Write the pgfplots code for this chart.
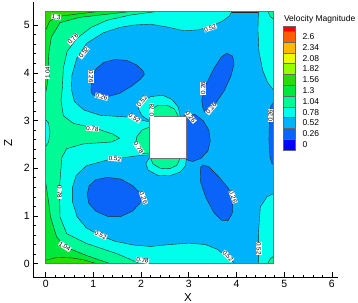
\documentclass[border=0pt]{standalone}
\usepackage{fontspec}
\setmainfont{Liberation Sans}
\usepackage{pgfplots}
\pgfplotsset{compat=1.18}
\definecolor{b0}{RGB}{0,0,255}
\definecolor{b1}{RGB}{10,100,250}
\definecolor{b2}{RGB}{0,178,252}
\definecolor{b3}{RGB}{0,255,235}
\definecolor{b4}{RGB}{0,250,150}
\definecolor{b5}{RGB}{0,232,60}
\definecolor{b6}{RGB}{40,222,0}
\definecolor{b7}{RGB}{150,255,0}
\definecolor{b8}{RGB}{235,255,0}
\definecolor{b9}{RGB}{255,185,0}
\definecolor{b10}{RGB}{255,95,0}
\definecolor{b11}{RGB}{255,0,0}
\pgfplotsset{reg/.style={fill=#1, draw=black!85, line width=0.4pt, line join=round}}
\tikzset{lbl/.style={fill=white, inner sep=0.4pt, font=\fontsize{6.3}{7}\selectfont}}
\begin{document}
\begin{tikzpicture}
\begin{axis}[
  at={(0,0)}, anchor=south west,
  scale only axis, width=304.3pt, height=274.8pt,
  xmin=-0.26, xmax=6.12, ymin=-0.28, ymax=5.48,
  axis lines=left, axis line style={-, line width=0.8pt},
  tick align=inside,
  xtick={0,...,6}, ytick={0,...,5},
  minor tick num=4,
  major tick length=5pt, minor tick length=2.5pt,
  tick style={black, line width=0.6pt},
  ticklabel style={font=\fontsize{10.5}{12}\selectfont},
  /pgf/number format/assume math mode=true,
  xlabel={X}, ylabel={Z},
  label style={font=\fontsize{11.5}{13}\selectfont},
  xlabel style={at={(axis description cs:0.508,-0.073)}, anchor=center},
  ylabel style={at={(axis description cs:-0.083,0.488)}, anchor=center},
]
% 0.26-0.52 background
\addplot[reg=b2] coordinates {(0,0) (4.78,0) (4.78,5.28) (0,5.28)} -- cycle;
% 0.52-0.78
\addplot[reg=b3] coordinates {(3.90,5.28) (0,5.28) (0,0) (3.97,0) (3.82,0.12) (3.6,0.3) (3.35,0.4) (3.0,0.43) (2.6,0.4) (2.2,0.36) (1.84,0.39) (1.45,0.47) (1.14,0.59) (0.85,0.75) (0.66,0.98) (0.56,1.3) (0.56,1.6) (0.64,1.85) (0.85,2.05) (1.28,2.17) (1.91,2.26) (2.17,2.28) (2.17,2.97) (1.77,3.07) (1.14,3.11) (0.8,3.22) (0.6,3.4) (0.54,3.65) (0.55,3.95) (0.65,4.3) (0.86,4.62) (1.21,4.84) (1.55,4.95) (1.83,5.0) (2.2,5.02) (2.6,4.95) (2.9,4.88) (3.2,4.9) (3.45,4.97) (3.7,5.08) (3.85,5.19)} -- cycle;
\addplot[reg=b3] coordinates {(2.17,3.0) (2.02,3.1) (1.94,3.25) (2.0,3.38) (2.2,3.5) (2.45,3.53) (2.65,3.44) (2.78,3.28) (2.82,3.09) (2.17,3.09)} -- cycle;
\addplot[reg=b3] coordinates {(2.17,2.21) (2.1,2.1) (2.15,1.96) (2.35,1.85) (2.6,1.84) (2.82,1.92) (2.93,2.05) (2.95,2.21)} -- cycle;
\addplot[reg=b3] coordinates {(4.46,5.28) (4.45,4.9) (4.47,4.45) (4.55,4.05) (4.65,3.8) (4.78,3.63) (4.78,5.28)} -- cycle;
\addplot[reg=b3] coordinates {(4.46,0) (4.46,0.63) (4.5,1.19) (4.64,1.4) (4.78,1.47) (4.78,0)} -- cycle;
% 0.78-1.04
\addplot[reg=b4] coordinates {(2.3,5.28) (1.77,5.21) (1.28,5.1) (0.95,4.95) (0.65,4.72) (0.45,4.45) (0.37,4.1) (0.35,3.7) (0.32,3.42) (0.37,3.1) (0.58,2.94) (1.07,2.83) (1.4,2.72) (1.55,2.63) (1.38,2.55) (0.79,2.51) (0.44,2.41) (0.34,2.23) (0.30,1.75) (0.29,1.5) (0.30,0.98) (0.44,0.63) (0.86,0.42) (1.49,0.21) (1.98,0) (0,0) (0,5.28)} -- cycle;
\addplot[reg=b3] coordinates {(0,2.45) (0.06,2.55) (0.09,2.75) (0.06,2.95) (0,3.02)} -- cycle;
\addplot[reg=b4] coordinates {(2.17,3.09) (2.2,3.22) (2.35,3.32) (2.55,3.32) (2.7,3.24) (2.78,3.09)} -- cycle;
\addplot[reg=b4] coordinates {(2.17,2.86) (2.02,2.8) (1.91,2.66) (1.88,2.48) (1.95,2.34) (2.08,2.3) (2.17,2.32)} -- cycle;
\addplot[reg=b4] coordinates {(2.2,2.21) (2.25,2.09) (2.4,2.0) (2.6,1.99) (2.75,2.06) (2.82,2.21)} -- cycle;
\addplot[reg=b4] coordinates {(4.66,5.28) (4.71,5.18) (4.78,5.12) (4.78,5.28)} -- cycle;
\addplot[reg=b4] coordinates {(4.65,0) (4.71,0.1) (4.78,0.16) (4.78,0)} -- cycle;
% 1.04-1.3
\addplot[reg=b5] coordinates {(0,3.58) (0.04,3.8) (0.05,4.1) (0.07,4.45) (0.12,4.75) (0.3,5.05) (0.7,5.16) (1.3,5.23) (1.75,5.28) (0,5.28)} -- cycle;
\addplot[reg=b5] coordinates {(0,1.71) (0.06,1.3) (0.1,0.98) (0.23,0.56) (0.41,0.35) (0.86,0.17) (1.35,0) (0,0)} -- cycle;
% 1.3-1.56
\addplot[reg=b6] coordinates {(0,4.89) (0.08,5.08) (0.25,5.18) (0.72,5.24) (1.07,5.28) (0,5.28)} -- cycle;
\addplot[reg=b6] coordinates {(0,0.07) (0.23,0.13) (0.55,0.12) (0.79,0.08) (1.07,0) (0,0)} -- cycle;
% below 0.26
\addplot[reg=b1] coordinates {(0.95,3.6) (0.96,3.85) (1.05,4.08) (1.22,4.22) (1.45,4.28) (1.7,4.26) (1.9,4.17) (2.04,4.04) (2.07,3.97) (1.98,3.86) (1.8,3.72) (1.55,3.57) (1.3,3.5) (1.1,3.5) (0.99,3.54)} -- cycle;
\addplot[reg=b1] coordinates {(3.30,3.24) (3.27,3.42) (3.36,3.75) (3.52,4.08) (3.68,4.33) (3.8,4.41) (3.92,4.35) (3.95,4.18) (3.88,3.92) (3.74,3.62) (3.56,3.36) (3.42,3.2) (3.34,3.17)} -- cycle;
\addplot[reg=b1] coordinates {(0.87,1.45) (0.91,1.63) (1.05,1.76) (1.3,1.81) (1.58,1.77) (1.83,1.63) (2.03,1.42) (1.98,1.27) (1.82,1.1) (1.58,0.99) (1.3,0.99) (1.05,1.1) (0.9,1.27)} -- cycle;
\addplot[reg=b1] coordinates {(3.24,2.0) (3.3,2.07) (3.42,2.03) (3.62,1.83) (3.83,1.58) (3.93,1.32) (3.91,1.05) (3.82,0.9) (3.68,0.91) (3.52,1.08) (3.36,1.38) (3.25,1.7)} -- cycle;
\addplot[reg=b1] coordinates {(2.88,3.09) (3.0,3.14) (3.14,3.12) (3.3,3.0) (3.42,2.8) (3.45,2.57) (3.4,2.36) (3.26,2.21) (3.08,2.14) (2.95,2.18) (2.95,3.09)} -- cycle;
\addplot[reg=b1] coordinates {(4.78,3.38) (4.72,3.3) (4.69,3.0) (4.68,2.6) (4.7,2.25) (4.74,2.1) (4.78,2.07)} -- cycle;
% obstacle and frame
\addplot[fill=white, draw=black!55, line width=0.5pt] coordinates {(2.17,2.21) (2.95,2.21) (2.95,3.09) (2.17,3.09)} -- cycle;
\addplot[draw=black!55, line width=0.6pt] coordinates {(0,0) (4.78,0) (4.78,5.28) (0,5.28)} -- cycle;
% contour labels
\node[lbl, rotate=-8] at (axis cs:0.22,5.17) {1.3};
\node[lbl, rotate=48] at (axis cs:0.57,4.71) {0.78};
\node[lbl, rotate=52] at (axis cs:0.8,4.42) {0.52};
\node[lbl, rotate=90] at (axis cs:0.04,4.0) {1.04};
\node[lbl, rotate=-90] at (axis cs:0.95,3.92) {0.26};
\node[lbl, rotate=-15] at (axis cs:1.17,3.5) {0.26};
\node[lbl, rotate=50] at (axis cs:2.02,3.4) {0.52};
\node[lbl, rotate=90] at (axis cs:2.22,3.22) {0.78};
\node[lbl, rotate=-30] at (axis cs:1.86,3.05) {0.52};
\node[lbl, rotate=-5] at (axis cs:0.98,2.83) {0.78};
\node[lbl, rotate=-55] at (axis cs:1.95,2.43) {0.78};
\node[lbl, rotate=-5] at (axis cs:1.45,2.2) {0.52};
\node[lbl, rotate=-50] at (axis cs:3.04,3.07) {0.26};
\node[lbl, rotate=90] at (axis cs:3.3,3.68) {0.26};
\node[lbl, rotate=50] at (axis cs:3.47,3.25) {0.26};
\node[lbl, rotate=20] at (axis cs:3.45,4.94) {0.52};
\node[lbl, rotate=90] at (axis cs:4.71,3.1) {0.26};
\node[lbl, rotate=-90] at (axis cs:0.29,1.5) {0.78};
\node[lbl, rotate=-25] at (axis cs:1.15,0.6) {0.52};
\node[lbl, rotate=-32] at (axis cs:0.4,0.36) {1.04};
\node[lbl, rotate=-10] at (axis cs:2.03,0.07) {0.78};
\node[lbl, rotate=-70] at (axis cs:2.05,1.38) {0.26};
\node[lbl, rotate=-70] at (axis cs:3.93,1.4) {0.26};
\node[lbl, rotate=-90] at (axis cs:4.47,0.32) {0.52};
\node[lbl, rotate=-45] at (axis cs:3.82,0.16) {0.52};
\end{axis}
% legend
\node[anchor=west, font=\fontsize{8.5}{10}\selectfont, inner sep=0pt] at (250.5pt,258pt) {Velocity Magnitude};
\fill[b11] (250pt,245.9pt) rectangle (262pt,250.4pt);
\draw[black!60, line width=0.3pt] (250pt,245.9pt) rectangle (262pt,250.4pt);
\foreach \c/\t [count=\i from 0] in {b10/2.6,b9/2.34,b8/2.08,b7/1.82,b6/1.56,b5/1.3,b4/1.04,b3/0.78,b2/0.52,b1/0.26,b0/0}{
  \pgfmathsetlengthmacro{\yc}{240.5pt-10.8pt*\i}
  \fill[\c] (250pt,\yc-5.4pt) rectangle (262pt,\yc+5.4pt);
  \draw[black!60, line width=0.3pt] (250pt,\yc-5.4pt) rectangle (262pt,\yc+5.4pt);
  \node[anchor=west, font=\fontsize{8.5}{10}\selectfont, inner sep=0pt] at (269pt,\yc) {\t};
}
\pgfresetboundingbox
\path (-33.3pt,-25pt) rectangle (324.7pt,277pt);
\end{tikzpicture}
\end{document}
